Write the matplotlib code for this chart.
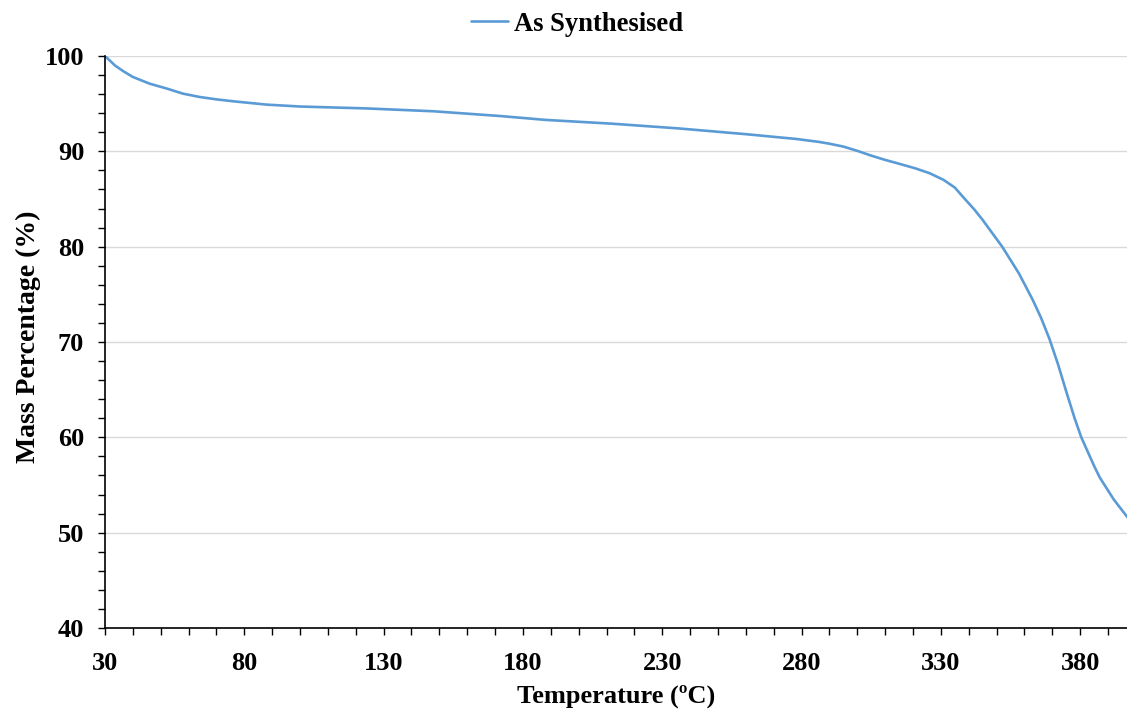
import matplotlib
matplotlib.use("Agg")
import matplotlib.pyplot as plt
from matplotlib.ticker import MultipleLocator, FixedLocator

# TGA curve
temperature = [30, 33.6, 36.6, 40, 46, 52, 58, 64, 70, 76, 88, 100, 124, 148,
               172, 188, 212, 236, 260, 278, 286, 290, 295, 300, 305, 310, 315,
               321, 326, 331, 335, 338, 342, 345, 352, 358, 363, 366, 369, 372,
               375, 378, 380.4, 383, 385, 387, 392, 397]
mass_pct = [100, 99.0, 98.4, 97.8, 97.1, 96.6, 96.05, 95.7, 95.45, 95.25, 94.9,
            94.7, 94.5, 94.2, 93.7, 93.3, 92.9, 92.4, 91.8, 91.3, 91.0, 90.8,
            90.5, 90.05, 89.55, 89.1, 88.7, 88.2, 87.7, 87.0, 86.2, 85.2, 83.9,
            82.8, 80.0, 77.2, 74.4, 72.5, 70.3, 67.7, 64.8, 62.0, 60.0, 58.3,
            57.0, 55.8, 53.5, 51.6]
series_name = "As Synthesised"
x_ticks = [30, 80, 130, 180, 230, 280, 330, 380]

plt.rcParams['font.family'] = ['Liberation Serif', 'DejaVu Serif']
plt.rcParams['font.weight'] = 'bold'

fig = plt.figure(figsize=(11.27, 7.10), dpi=100)
ax = fig.add_axes([105 / 1127, 82 / 710, 1 - 105 / 1127, (627.7 - 55.7) / 710])

ax.plot(temperature, mass_pct, color="#5B9BD5", lw=1.9, label=series_name,
        solid_joinstyle="round", solid_capstyle="round")

ax.set_xlim(30, 396.8)
ax.set_ylim(40, 100)
ax.xaxis.set_major_locator(FixedLocator(x_ticks))
ax.xaxis.set_minor_locator(MultipleLocator(10))
ax.yaxis.set_major_locator(MultipleLocator(10))
ax.yaxis.set_minor_locator(MultipleLocator(2))
ax.tick_params(which="both", direction="out", length=5, width=1, color="black",
               labelsize=19)
ax.tick_params(axis="x", which="major", pad=12)
ax.tick_params(axis="y", which="major", pad=10)
for lab in ax.get_xticklabels() + ax.get_yticklabels():
    lab.set_fontweight("bold")

ax.grid(axis="y", which="major", color="#D9D9D9", lw=1)
ax.set_axisbelow(True)
for s in ["top", "right"]:
    ax.spines[s].set_visible(False)
for s in ["left", "bottom"]:
    ax.spines[s].set_color("black")
    ax.spines[s].set_linewidth(1.2)

ax.set_xlabel("Temperature (ºC)", fontsize=19, fontweight="bold", labelpad=7)
ax.set_ylabel("Mass Percentage (%)", fontsize=20, fontweight="bold", labelpad=2)
ax.yaxis.set_label_coords(-0.063, 0.51)

fig.legend(loc="center", bbox_to_anchor=(0.512, 0.966), frameon=False,
           prop={"size": 19.2, "weight": "bold"}, handlelength=1.4,
           handletextpad=0.2)

fig.savefig("out.png", dpi=100)
